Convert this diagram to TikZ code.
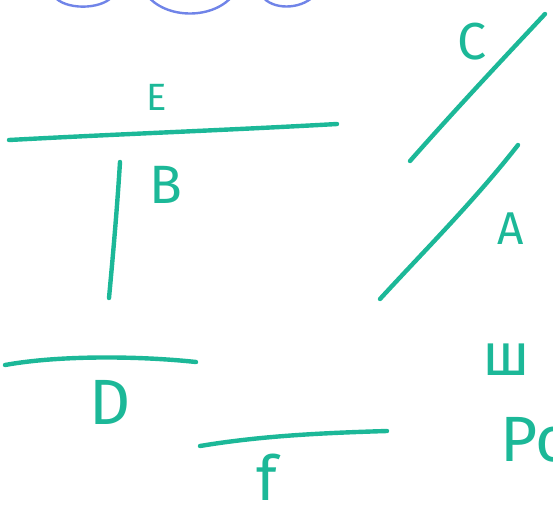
\documentclass[tikz,border=0pt]{standalone}
\usepackage{fontspec}
\setsansfont{Fira Sans}
\usepackage{xcolor}
\usetikzlibrary{positioning}
\definecolor{marker}{RGB}{28,184,152}
\definecolor{wave}{RGB}{112,132,232}
\tikzset{
  stroke/.style={marker,line width=4.4pt,line cap=round},
  lbl/.style={marker,font=\sffamily,inner sep=0pt}
}
\begin{document}
\begin{tikzpicture}[x=1pt,y=-1pt]
  \useasboundingbox (0,0) rectangle (553,517);
  \clip (0,0) rectangle (553,517);
  % waves at the top edge
  \draw[wave,line width=2.4pt] (54,-4) .. controls (64,10) and (100,10) .. (112,-3);
  \draw[wave,line width=2.4pt] (146,-6) .. controls (165,20) and (215,20) .. (234,-6);
  \draw[wave,line width=2.4pt] (262,-4) .. controls (272,10) and (300,10) .. (314,-4);
  % lines
  \draw[stroke] (9,140) .. controls (120,134) and (230,130) .. (337,124);
  \draw[stroke] (120,162) .. controls (117,210) and (113,255) .. (109,298);
  \draw[stroke] (410,161) .. controls (455,110) and (500,62) .. (545,14);
  \draw[stroke] (380,299) .. controls (425,250) and (475,200) .. (518,145);
  \draw[stroke] (5,365) .. controls (60,355) and (140,356) .. (196,362);
  \draw[stroke] (200,446) .. controls (260,436) and (320,433) .. (387,431);
  % labels
  \node[lbl,font=\sffamily\fontsize{38}{38}\selectfont] (lblE) at (157,97) {E};
  \node[lbl,font=\sffamily\fontsize{54}{54}\selectfont] (lblB) at (166,185) {B};
  \node[lbl,font=\sffamily\fontsize{52}{52}\selectfont] (lblC) at (472,42) {C};
  \node[lbl,font=\sffamily\fontsize{46}{46}\selectfont] (lblA) at (511,229) {A};
  \node[lbl,font=\sffamily\fontsize{64}{64}\selectfont] (lblD) at (110,402) {D};
  \node[lbl,font=\sffamily\fontsize{62}{62}\selectfont,text depth=0pt,anchor=base] (lblf) at (267,500) {f};
  \node[lbl,font=\sffamily\fontsize{60}{60}\selectfont,anchor=west] (lblw) at (482,360) {ш};
  \node[lbl,font=\sffamily\fontsize{64}{64}\selectfont,anchor=west] (lblPo) at (500,440) {Po};
\end{tikzpicture}
\end{document}
